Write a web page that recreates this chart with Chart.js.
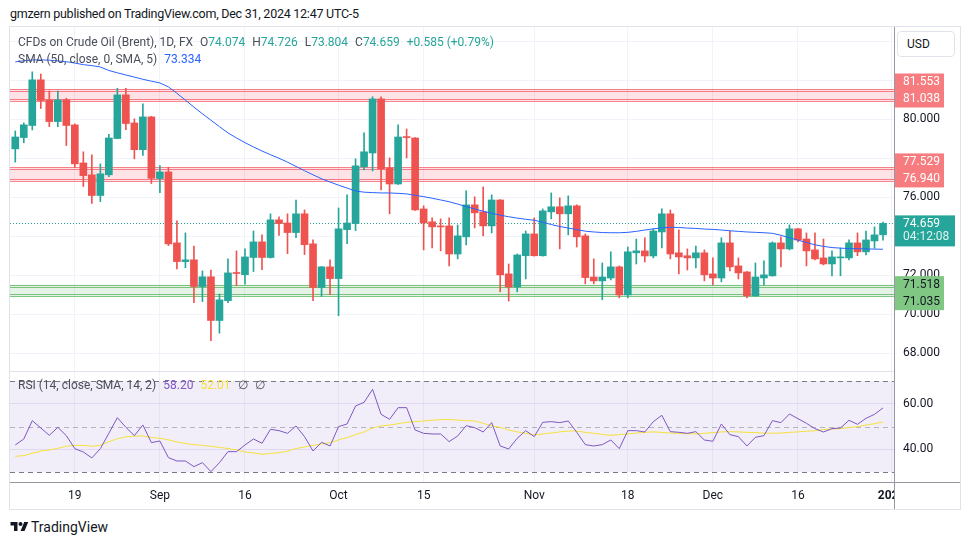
<!DOCTYPE html>
<html>
<head>
<meta charset="utf-8">
<script src="https://cdn.jsdelivr.net/npm/chart.js@4.4.1/dist/chart.umd.min.js"></script>
<style>
  body { margin: 0; background: #fff; font-family: Roboto, "Liberation Sans", sans-serif; color: #131722; }
  #page { position: relative; width: 970px; height: 545px; overflow: hidden; }
  .abs { position: absolute; white-space: nowrap; }
  #hdr { left: 10px; top: 6px; font-size: 12.5px; letter-spacing: -0.25px; }
  #frame { left: 9px; top: 26px; width: 952px; height: 484px; box-sizing: border-box; border: 1px solid #e0e3eb; }
  .leg { left: 18px; font-size: 12px; color: #4a4e59; line-height: 16px; }
  .k { margin-left: 7px; }
  .g { color: #26a69a; }
  #usd { left: 897px; top: 31px; width: 58px; height: 26px; box-sizing: border-box; border: 1px solid #e0e3eb; border-radius: 4px; font-size: 12px; line-height: 24px; padding-left: 9px; background: #fff; }
  #logo { left: 10px; top: 520px; }
  #brand { left: 31px; top: 518px; font-size: 14px; line-height: 18px; }
</style>
</head>
<body>
<div id="page">
  <div id="hdr" class="abs">gmzern published on TradingView.com, Dec 31, 2024 12:47 UTC-5</div>
  <div id="frame" class="abs"></div>
  <div class="abs" style="left:10px;top:27px"><canvas id="main" width="950" height="344"></canvas></div>
  <div class="abs" style="left:10px;top:371px"><canvas id="rsi" width="950" height="138"></canvas></div>
  <div class="abs leg" style="top:34px">CFDs on Crude Oil (Brent), 1D, FX<span class="k">O</span><span class="g">74.074</span><span class="k">H</span><span class="g">74.726</span><span class="k">L</span><span class="g">73.804</span><span class="k">C</span><span class="g">74.659</span><span class="k g">+0.585 (+0.79%)</span></div>
  <div class="abs leg" style="top:51px">SMA (50, close, 0, SMA, 5)<span class="k" style="color:#2962ff">73.334</span></div>
  <div class="abs leg" style="top:377px">RSI (14, close, SMA, 14, 2)<span class="k" style="color:#7e57c2">58.20</span><span class="k" style="color:#f5e13a">52.01</span><span class="k">∅</span><span class="k">∅</span></div>
  <div id="usd" class="abs">USD</div>
  <svg id="logo" class="abs" width="19" height="13" viewBox="0 0 36 26"><path d="M14 22H7V11H0V4h14v18zM28 22h-8l7.5-18h8L28 22z" fill="#131722"/><circle cx="20" cy="8" r="4" fill="#131722"/></svg>
  <div id="brand" class="abs">TradingView</div>
</div>
<script>
// daily candles, 8 Aug 2024 .. 31 Dec 2024 (index 0..102)
const openP = [78.48, 79.06, 79.68, 82.02, 80.99, 79.88, 80.99, 79.71, 77.76, 77.15,
  76.09, 77.15, 79.01, 81.25, 79.81, 78.44, 80.12, 76.96, 77.30, 73.66,
  72.70, 72.79, 71.42, 71.92, 69.68, 70.70, 72.12, 72.03, 72.91, 73.71,
  72.91, 74.84, 74.68, 74.19, 75.15, 73.61, 71.37, 72.43, 71.83, 74.34,
  74.65, 77.56, 78.27, 81.04, 77.50, 76.68, 79.09, 79.04, 75.40, 74.74,
  74.53, 74.53, 73.09, 73.97, 75.61, 75.25, 74.53, 75.86, 72.07, 71.40,
  73.00, 74.12, 73.00, 75.25, 75.51, 75.15, 75.56, 74.02, 71.91, 71.71,
  71.86, 72.43, 70.99, 73.15, 73.25, 72.99, 74.22, 75.15, 73.15, 73.00,
  72.89, 73.15, 72.07, 71.86, 73.66, 72.48, 72.17, 70.94, 71.86, 71.97,
  73.66, 73.35, 74.38, 73.86, 73.30, 72.89, 72.58, 72.89, 72.89, 73.66,
  73.20, 73.76, 74.074];
const highP = [79.40, 79.81, 82.43, 82.32, 81.45, 81.45, 81.08, 79.76, 78.33, 78.17,
  77.71, 79.23, 81.59, 81.59, 80.02, 80.79, 80.15, 77.62, 77.54, 74.79,
  74.17, 73.50, 72.22, 72.27, 71.04, 72.84, 73.25, 73.35, 74.27, 74.07,
  75.15, 74.99, 75.15, 75.86, 75.35, 73.81, 72.45, 72.79, 75.45, 76.12,
  77.97, 79.30, 81.15, 81.15, 78.02, 79.71, 79.50, 79.06, 75.56, 74.94,
  74.89, 74.94, 74.58, 76.33, 76.02, 76.53, 76.12, 75.88, 72.58, 73.09,
  74.27, 74.94, 75.40, 76.22, 75.97, 76.07, 75.61, 74.12, 72.84, 72.63,
  73.20, 72.48, 73.45, 73.86, 73.92, 74.38, 75.40, 75.35, 74.33, 73.35,
  73.50, 73.30, 72.89, 73.92, 74.27, 72.89, 72.19, 72.63, 72.74, 73.71,
  73.97, 74.58, 74.40, 74.17, 74.17, 73.86, 73.25, 73.40, 73.81, 74.17,
  74.27, 74.48, 74.726];
const lowP = [77.80, 78.79, 79.45, 80.55, 79.62, 79.62, 78.65, 77.52, 76.55, 75.68,
  75.78, 77.06, 79.00, 79.47, 77.97, 78.14, 76.70, 76.24, 73.52, 72.33,
  72.39, 70.60, 70.65, 68.65, 69.03, 70.60, 71.47, 71.54, 72.19, 72.29,
  72.88, 74.04, 73.11, 73.93, 73.06, 70.70, 70.91, 71.01, 69.93, 73.62,
  74.29, 77.40, 77.35, 76.38, 75.15, 76.66, 78.02, 75.33, 73.30, 73.40,
  73.25, 72.48, 72.84, 73.56, 74.43, 74.02, 74.17, 71.15, 70.68, 71.15,
  71.81, 72.98, 72.98, 74.89, 73.35, 74.07, 73.45, 71.56, 71.56, 70.74,
  71.76, 70.84, 70.84, 72.58, 72.68, 72.89, 73.40, 72.84, 72.07, 72.27,
  72.38, 71.71, 71.50, 71.66, 72.22, 71.81, 70.84, 70.92, 71.50, 71.95,
  72.43, 73.30, 73.71, 72.48, 72.79, 72.53, 71.97, 71.97, 72.79, 73.00,
  73.04, 73.38, 73.804];
const closeP = [79.09, 79.71, 82.02, 80.96, 79.88, 80.99, 79.68, 77.71, 77.11, 76.09,
  77.20, 79.04, 81.25, 79.78, 78.44, 80.12, 76.97, 77.30, 73.61, 72.70,
  72.79, 71.42, 71.92, 69.68, 70.74, 72.12, 72.09, 72.94, 73.71, 72.91,
  74.84, 74.65, 74.19, 75.15, 73.57, 71.37, 72.43, 71.83, 74.38, 74.68,
  77.61, 78.33, 81.04, 77.45, 76.68, 79.09, 79.06, 75.35, 74.68, 74.48,
  74.48, 73.09, 74.02, 75.61, 75.20, 74.53, 75.86, 72.02, 71.40, 73.04,
  74.12, 73.00, 75.30, 75.51, 75.15, 75.56, 73.97, 71.88, 71.71, 71.91,
  72.43, 70.99, 73.20, 73.25, 72.99, 74.27, 75.15, 73.09, 72.94, 72.89,
  73.15, 72.02, 71.86, 73.66, 72.43, 72.12, 70.94, 71.91, 72.02, 73.66,
  73.35, 74.38, 73.81, 73.25, 72.84, 72.58, 72.94, 72.94, 73.66, 73.20,
  73.81, 74.07, 74.659];
const sma50 = [82.94, 83.00, 83.04, 83.04, 83.03, 82.99, 82.95, 82.88, 82.80, 82.75,
  82.68, 82.50, 82.38, 82.27, 82.16, 82.05, 81.95, 81.86, 81.66, 81.33,
  80.98, 80.62, 80.28, 79.95, 79.62, 79.30, 79.04, 78.80, 78.58, 78.37,
  78.18, 78.00, 77.80, 77.58, 77.36, 77.15, 76.95, 76.78, 76.62, 76.47,
  76.32, 76.26, 76.24, 76.22, 76.22, 76.20, 76.17, 76.10, 76.03, 75.95,
  75.86, 75.77, 75.65, 75.52, 75.40, 75.28, 75.18, 75.08, 75.00, 74.93,
  74.87, 74.82, 74.72, 74.60, 74.50, 74.42, 74.34, 74.26, 74.22, 74.19,
  74.18, 74.18, 74.20, 74.25, 74.32, 74.38, 74.43, 74.46, 74.45, 74.42,
  74.40, 74.37, 74.35, 74.32, 74.28, 74.25, 74.22, 74.20, 74.18, 74.15,
  74.05, 73.92, 73.80, 73.68, 73.56, 73.48, 73.42, 73.39, 73.37, 73.36,
  73.35, 73.34, 73.334];
const rsi = [41.97, 44.60, 52.63, 49.42, 46.20, 49.71, 46.06, 40.36, 38.90, 36.28,
  40.36, 47.08, 53.94, 49.71, 46.06, 50.73, 42.99, 43.72, 36.42, 34.96,
  34.96, 32.48, 34.23, 30.29, 34.23, 39.05, 39.05, 41.97, 44.60, 42.70,
  48.83, 48.25, 47.08, 50.29, 45.62, 39.34, 43.14, 41.53, 50.00, 51.17,
  59.05, 60.66, 66.35, 55.40, 53.21, 58.32, 58.32, 48.54, 47.08, 46.79,
  46.79, 43.43, 45.91, 50.44, 49.56, 47.66, 51.75, 41.53, 40.22, 44.89,
  48.25, 45.62, 51.90, 52.19, 51.75, 52.48, 47.52, 42.12, 41.53, 42.12,
  44.16, 40.36, 48.25, 48.25, 47.66, 52.19, 54.96, 47.81, 47.52, 47.08,
  47.81, 44.16, 43.58, 51.17, 46.50, 45.62, 41.53, 45.33, 46.06, 52.63,
  51.75, 55.55, 53.50, 51.46, 49.12, 47.66, 49.12, 49.42, 52.77, 51.02,
  53.65, 55.40, 58.20];
const rsiSma = [37.0, 37.3, 38.3, 39.3, 39.8, 40.5, 41.4, 41.8, 41.8, 41.4,
  41.8, 43.4, 44.7, 45.5, 45.9, 45.9, 45.3, 44.9, 44.2, 43.3,
  42.6, 42.1, 41.8, 41.4, 40.9, 40.4, 39.8, 38.9, 38.5, 37.9,
  38.3, 38.6, 39.3, 40.4, 41.1, 41.8, 42.4, 43.0, 44.2, 45.2,
  46.5, 47.7, 49.4, 50.3, 50.7, 51.3, 51.9, 52.2, 52.5, 52.8,
  53.1, 53.1, 52.9, 52.6, 52.5, 51.5, 50.3, 49.7, 48.5, 47.7,
  47.1, 46.4, 46.8, 47.2, 47.7, 48.1, 48.1, 47.5, 47.1, 46.6,
  46.2, 46.5, 46.8, 47.2, 47.5, 47.7, 47.5, 47.2, 47.1, 46.9,
  46.8, 47.1, 47.4, 47.7, 47.8, 47.7, 47.5, 47.4, 47.2, 47.1,
  47.2, 47.5, 47.7, 48.0, 48.2, 48.7, 49.0, 49.1, 49.6, 50.0,
  50.7, 51.3, 52.01];

// drawn zones (resistance / support)
const zoneHigh = [81.553, 77.529, 71.518];
const zoneLow = [81.038, 76.940, 71.035];

// time axis
const dateTicks = [7, 17, 27, 38, 48, 61, 72, 82, 92, 103];
const dateLabels = ['19', 'Sep', '16', 'Oct', '15', 'Nov', '18', 'Dec', '16', '2025'];
const priceTicks = [68, 70, 72, 76, 80];
const rsiTicks = [40, 60];
const rsiBands = [70, 50, 30];

const UP = '#26a69a', DOWN = '#ef5350';
const FONT = 'Roboto, "Liberation Sans", sans-serif';
Chart.defaults.font.family = FONT;
Chart.defaults.font.size = 12;
Chart.defaults.color = '#131722';

const idx = closeP.map((_, i) => i);
const candleColor = idx.map(i => closeP[i] >= openP[i] ? UP : DOWN);
const lastClose = closeP[closeP.length - 1];
const X_MIN = -0.62, X_MAX = 103.29;

function xScale(showLabels) {
  return {
    type: 'linear', min: X_MIN, max: X_MAX, offset: false,
    afterBuildTicks: s => { s.ticks = dateTicks.map(v => ({ value: v })); },
    ticks: {
      display: showLabels, autoSkip: false, maxRotation: 0, padding: 7,
      callback: v => dateLabels[dateTicks.indexOf(v)],
      font: ctx => ({ size: 12, weight: ctx.tick && ctx.tick.value === 103 ? 'bold' : 'normal' })
    },
    grid: { color: '#f0f3fa', drawTicks: false, offset: false },
    border: { display: false },
    afterFit: s => { s.height = showLabels ? 27 : 0; s.paddingLeft = 0; s.paddingRight = 0; }
  };
}

function hLine(ctx, a, y, x0, x1) {
  const yy = Math.round(y) + 0.5;
  ctx.beginPath(); ctx.moveTo(x0, yy); ctx.lineTo(x1, yy); ctx.stroke();
}

const zonePlugin = {
  id: 'zones',
  beforeDatasetsDraw(chart) {
    const { ctx, chartArea: a, scales: { y } } = chart;
    ctx.save();
    ctx.beginPath(); ctx.rect(a.left, a.top, a.right - a.left, a.bottom - a.top); ctx.clip();
    zoneHigh.forEach((hi, k) => {
      const lo = zoneLow[k];
      const above = lo > lastClose;
      const y1 = y.getPixelForValue(hi), y2 = y.getPixelForValue(lo);
      ctx.fillStyle = above ? 'rgba(242,54,69,0.14)' : 'rgba(76,175,80,0.15)';
      ctx.fillRect(a.left, y1, a.right - a.left, y2 - y1 + 2);
      ctx.strokeStyle = above ? 'rgba(242,54,69,0.6)' : 'rgba(76,175,80,0.7)';
      ctx.lineWidth = 1;
      [y1, y1 + 2, y2, y2 + 2].forEach(v => hLine(ctx, a, v, a.left, a.right));
    });
    ctx.strokeStyle = UP;
    ctx.setLineDash([1, 2]);
    hLine(ctx, a, y.getPixelForValue(lastClose), a.left, a.right);
    ctx.restore();
  },
  afterDraw(chart) {
    const { ctx, chartArea: a, scales: { y } } = chart;
    const lh = 17;
    ctx.save();
    ctx.font = '12px ' + FONT;
    ctx.textBaseline = 'middle';
    zoneHigh.forEach((hi, k) => {
      const lo = zoneLow[k];
      const above = lo > lastClose;
      let yHi, yLo;
      if (above) { yLo = y.getPixelForValue(lo); yHi = yLo - lh; }
      else { yHi = y.getPixelForValue(hi); yLo = yHi + lh; }
      ctx.fillStyle = above ? '#f77c80' : '#81c784';
      ctx.fillRect(a.right + 1, yHi - lh / 2, 49, lh * 2);
      ctx.fillStyle = above ? '#ffffff' : '#131722';
      ctx.fillText(hi.toFixed(3), a.right + 9, yHi + 0.5);
      ctx.fillText(lo.toFixed(3), a.right + 9, yLo + 0.5);
    });
    const yp = y.getPixelForValue(lastClose);
    ctx.fillStyle = UP;
    ctx.fillRect(a.right + 1, yp - 8, 60, 31);
    ctx.fillStyle = '#ffffff';
    ctx.fillText(lastClose.toFixed(3), a.right + 9, yp + 0.5);
    ctx.fillStyle = 'rgba(255,255,255,0.85)';
    ctx.fillText('04:12:08', a.right + 9, yp + 14);
    ctx.restore();
  }
};

new Chart(document.getElementById('main'), {
  type: 'bar',
  data: {
    datasets: [
      { type: 'line', data: idx.map(i => ({ x: i, y: sma50[i] })), borderColor: '#2962ff', borderWidth: 1, pointRadius: 0, order: 0 },
      { data: idx.map(i => ({ x: i, y: [openP[i], closeP[i]] })), backgroundColor: candleColor, barThickness: 7, minBarLength: 1, grouped: false, order: 1 },
      { data: idx.map(i => ({ x: i, y: [lowP[i], highP[i]] })), backgroundColor: candleColor, barThickness: 1, grouped: false, order: 2 }
    ]
  },
  options: {
    responsive: false, animation: false, events: [],
    layout: { padding: 0, autoPadding: false },
    plugins: { legend: { display: false }, tooltip: { enabled: false } },
    scales: {
      x: xScale(false),
      y: {
        position: 'right', min: 67.09, max: 84.73,
        afterBuildTicks: s => { s.ticks = []; for (let v = 68; v <= 84; v += 2) s.ticks.push({ value: v }); },
        ticks: { padding: 9, callback: v => priceTicks.includes(v) ? v.toFixed(3) : '' },
        grid: { color: '#f0f3fa', drawTicks: false },
        border: { color: '#9598a1' },
        afterFit: s => { s.width = 66; s.paddingTop = 0; s.paddingBottom = 0; }
      }
    }
  },
  plugins: [zonePlugin]
});

const rsiPlugin = {
  id: 'rsiBands',
  beforeDatasetsDraw(chart) {
    const { ctx, chartArea: a, scales: { y } } = chart;
    const yTop = y.getPixelForValue(rsiBands[0]), yBot = y.getPixelForValue(rsiBands[2]);
    ctx.save();
    ctx.fillStyle = 'rgba(126,87,194,0.1)';
    ctx.fillRect(a.left, yTop, a.right - a.left, yBot - yTop);
    ctx.lineWidth = 1;
    ctx.setLineDash([5, 4]);
    rsiBands.forEach((v, k) => {
      ctx.strokeStyle = k === 1 ? 'rgba(120,123,134,0.5)' : '#787b86';
      hLine(ctx, a, y.getPixelForValue(v), a.left, a.right);
    });
    ctx.restore();
  },
  afterDraw(chart) {
    const { ctx, chartArea: a, width, height } = chart;
    ctx.save();
    ctx.fillStyle = '#fff';
    ctx.fillRect(a.right + 1, a.bottom + 1, width - a.right - 1, height - a.bottom - 1);
    ctx.strokeStyle = '#9598a1';
    ctx.lineWidth = 1;
    hLine(ctx, a, a.bottom, 0, width);
    ctx.beginPath(); ctx.moveTo(a.right + 0.5, 0); ctx.lineTo(a.right + 0.5, height); ctx.stroke();
    ctx.strokeStyle = '#e0e3eb';
    hLine(ctx, a, 0, 0, a.right);
    ctx.restore();
  }
};

new Chart(document.getElementById('rsi'), {
  type: 'line',
  data: {
    datasets: [
      { data: idx.map(i => ({ x: i, y: rsi[i] })), borderColor: '#7e57c2', borderWidth: 1, pointRadius: 0 },
      { data: idx.map(i => ({ x: i, y: rsiSma[i] })), borderColor: '#f5e13a', borderWidth: 1, pointRadius: 0 }
    ]
  },
  options: {
    responsive: false, animation: false, events: [],
    layout: { padding: 0, autoPadding: false },
    plugins: { legend: { display: false }, tooltip: { enabled: false } },
    scales: {
      x: xScale(true),
      y: {
        position: 'right', min: 25.75, max: 74.38,
        afterBuildTicks: s => { s.ticks = rsiTicks.map(v => ({ value: v })); },
        ticks: { padding: 9, callback: v => v.toFixed(2) },
        grid: { color: '#ebe6f5', drawTicks: false },
        border: { display: false },
        afterFit: s => { s.width = 66; s.paddingTop = 0; s.paddingBottom = 0; }
      }
    }
  },
  plugins: [rsiPlugin]
});
</script>
</body>
</html>
